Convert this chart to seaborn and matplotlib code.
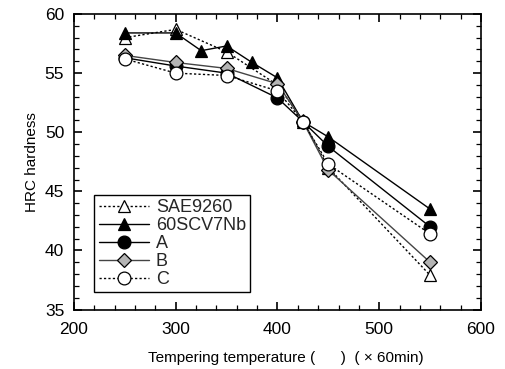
import matplotlib
matplotlib.use("Agg")
import matplotlib.pyplot as plt
from matplotlib.ticker import MultipleLocator
import seaborn as sns
import pandas as pd

sns.set_theme(style="white")
plt.rcParams["font.family"] = ["Liberation Sans", "DejaVu Sans"]

# Tempering temperature (deg C) and HRC hardness per steel
temp_sae = [250, 300, 350, 400, 425, 450, 550]
hrc_sae = [58.0, 58.7, 56.8, 54.0, 51.0, 47.0, 37.9]

temp_nb = [250, 300, 325, 350, 375, 400, 425, 450, 550]
hrc_nb = [58.4, 58.4, 56.9, 57.3, 55.9, 54.6, 50.9, 49.6, 43.5]

temp_a = [250, 300, 350, 400, 425, 450, 550]
hrc_a = [56.3, 55.6, 55.0, 52.9, 50.9, 48.8, 42.0]

temp_b = [250, 300, 350, 400, 425, 450, 550]
hrc_b = [56.5, 55.9, 55.4, 54.1, 50.9, 46.8, 39.0]

temp_c = [250, 300, 350, 400, 425, 450, 550]
hrc_c = [56.2, 55.0, 54.8, 53.5, 50.9, 47.3, 41.4]

series_names = ["SAE9260", "60SCV7Nb", "A", "B", "C"]

dotted = (0, (1.6, 1.6))
styles = {
    "SAE9260": dict(temps=temp_sae, vals=hrc_sae, ls=dotted, marker="^", mfc="white", color="black"),
    "60SCV7Nb": dict(temps=temp_nb, vals=hrc_nb, ls="-", marker="^", mfc="black", color="black"),
    "A": dict(temps=temp_a, vals=hrc_a, ls="-", marker="o", mfc="black", color="black"),
    "B": dict(temps=temp_b, vals=hrc_b, ls="-", marker="D", mfc="#b4b4b4", color="#444444"),
    "C": dict(temps=temp_c, vals=hrc_c, ls=dotted, marker="o", mfc="white", color="black"),
}

fig = plt.figure(figsize=(5.05, 3.69), dpi=100)
ax = fig.add_axes([0.1465, 0.161, 0.806, 0.801])

for name in series_names:
    s = styles[name]
    df = pd.DataFrame({"temp": s["temps"], "hrc": s["vals"]})
    ms = 7.2 if s["marker"] == "D" else 9.2
    sns.lineplot(data=df, x="temp", y="hrc", ax=ax, label=name,
                 color=s["color"], linestyle=s["ls"], linewidth=1.0,
                 marker=s["marker"], markersize=ms,
                 markerfacecolor=s["mfc"], markeredgecolor="black",
                 markeredgewidth=0.9, clip_on=False)

ax.set_xlim(200, 600)
ax.set_ylim(35, 60)
ax.xaxis.set_major_locator(MultipleLocator(100))
ax.xaxis.set_minor_locator(MultipleLocator(20))
ax.yaxis.set_major_locator(MultipleLocator(5))
ax.yaxis.set_minor_locator(MultipleLocator(1))
ax.tick_params(which="both", direction="in", top=True, right=True,
               bottom=True, left=True, color="black", labelsize=12.5,
               labelcolor="black")
ax.tick_params(which="major", length=6, width=1.2)
ax.tick_params(which="minor", length=3.5, width=0.9)
ax.tick_params(axis="x", which="major", pad=9)
ax.tick_params(axis="y", which="major", pad=7)
for sp in ax.spines.values():
    sp.set_color("black")
    sp.set_linewidth(1.2)

ax.set_xlabel("Tempering temperature (      )  ( \u00d7 60min)", fontsize=11,
              color="black", labelpad=6)
ax.xaxis.set_label_coords(0.52, -0.14)
ax.set_ylabel("HRC hardness", fontsize=11, color="black", labelpad=4)

leg = ax.legend(loc="lower left", bbox_to_anchor=(0.05, 0.058), fontsize=13,
                frameon=True, fancybox=False, edgecolor="black", framealpha=1,
                handlelength=2.8, handletextpad=0.35, labelspacing=0.05,
                borderpad=0.25, borderaxespad=0)
leg.get_frame().set_linewidth(1.0)

fig.savefig("out.png", dpi=100)
